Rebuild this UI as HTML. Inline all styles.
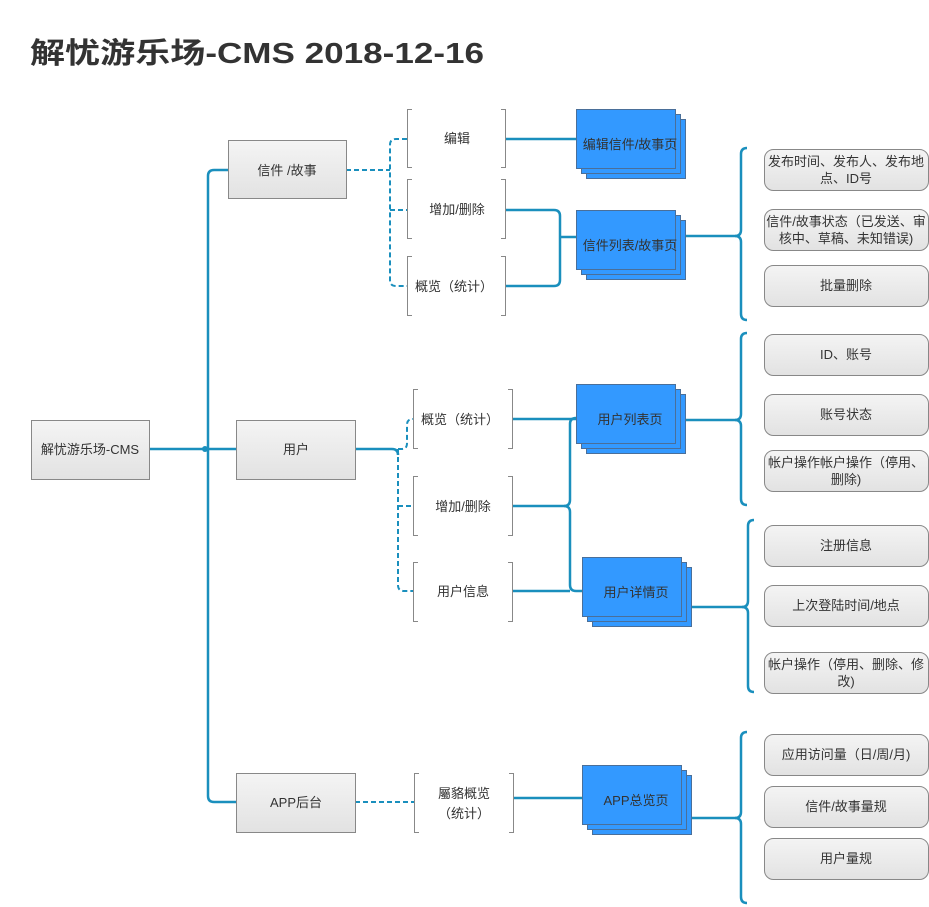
<!DOCTYPE html>
<html><head><meta charset="utf-8"><style>
html,body{margin:0;padding:0;background:#fff;width:929px;height:907px;overflow:hidden}
svg{display:block}
text{font-family:"Liberation Sans","Noto Sans CJK SC",sans-serif;fill:#333;font-size:13px}
</style></head><body>
<svg width="929" height="907" viewBox="0 0 929 907" xmlns="http://www.w3.org/2000/svg">
<defs>
<linearGradient id="g" x1="0" y1="0" x2="0" y2="1"><stop offset="0" stop-color="#f4f4f4"/><stop offset="1" stop-color="#e2e2e2"/></linearGradient>
</defs>
<text x="30" y="63" style="font-size:29px;font-weight:bold;fill:#333" textLength="454" lengthAdjust="spacingAndGlyphs">解忧游乐场-CMS  2018-12-16</text>

<g fill="none" stroke="#1a8fbd" stroke-width="2.5">
<!-- trunk -->
<path d="M228 170 H214 Q208 170 208 176 V796 Q208 802 214 802 H236"/>
<path d="M149 449 H236"/>
<!-- letters -->
<path d="M506 139 H576"/>
<path d="M506 210 H554 Q560 210 560 216 V280 Q560 286 554 286 H506"/>
<path d="M560 237 H576"/>
<path d="M685 236 H735 Q741 236 741 230 V154 Q741 148 747 148"/>
<path d="M735 236 Q741 236 741 242 V314 Q741 320 747 320"/>
<!-- users -->
<path d="M355 449 H392 Q398 449 398 455"/>
<path d="M513 419 H576"/>
<path d="M513 506 H564 Q570 506 570 500 V424 Q570 418 576 418"/>
<path d="M564 506 Q570 506 570 512 V585 Q570 591 576 591 H583"/>
<path d="M513 591 H570"/>
<path d="M685 420 H735 Q741 420 741 414 V339 Q741 333 747 333"/>
<path d="M735 420 Q741 420 741 426 V499 Q741 505 747 505"/>
<path d="M692 607 H742 Q748 607 748 601 V526 Q748 520 754 520"/>
<path d="M742 607 Q748 607 748 613 V686 Q748 692 754 692"/>
<!-- app -->
<path d="M514 798 H583"/>
<path d="M692 818 H735 Q741 818 741 812 V738 Q741 732 747 732"/>
<path d="M735 818 Q741 818 741 824 V897 Q741 903 747 903"/>
</g>
<circle cx="205" cy="449" r="3" fill="#1a8fbd"/>

<g fill="none" stroke="#1a8fbd" stroke-width="2" stroke-dasharray="5,3">
<path d="M346 170 H390"/>
<path d="M407 139 H396 Q390 139 390 145 V280 Q390 286 396 286 H407"/>
<path d="M390 210 H407"/>
<path d="M398 449 V585 Q398 591 404 591 H413"/>
<path d="M398 506 H413"/>
<path d="M398 449 H402 Q407 449 407 443 V425 Q407 419 413 419"/>
<path d="M355 802 H414"/>
</g>

<!-- gray boxes -->
<g fill="url(#g)" stroke="#888" stroke-width="1">
<rect x="31.5" y="420.5" width="118" height="59"/>
<rect x="228.5" y="140.5" width="118" height="58"/>
<rect x="236.5" y="420.5" width="119" height="59"/>
<rect x="236.5" y="773.5" width="119" height="59"/>
</g>
<text x="90" y="454" text-anchor="middle">解忧游乐场-CMS</text>
<text x="287" y="175" text-anchor="middle">信件 /故事</text>
<text x="296" y="454" text-anchor="middle">用户</text>
<text x="296" y="807" text-anchor="middle">APP后台</text>

<!-- open brackets -->
<g fill="none" stroke="#888" stroke-width="1">
<path d="M412 109.5 H407.5 V167.5 H412 M501 109.5 H505.5 V167.5 H501"/>
<path d="M412 179.5 H407.5 V238.5 H412 M501 179.5 H505.5 V238.5 H501"/>
<path d="M412 256.5 H407.5 V315.5 H412 M501 256.5 H505.5 V315.5 H501"/>
<path d="M418 389.5 H413.5 V448.5 H418 M508 389.5 H512.5 V448.5 H508"/>
<path d="M418 476.5 H413.5 V535.5 H418 M508 476.5 H512.5 V535.5 H508"/>
<path d="M418 562.5 H413.5 V621.5 H418 M508 562.5 H512.5 V621.5 H508"/>
<path d="M419 773.5 H414.5 V832.5 H419 M509 773.5 H513.5 V832.5 H509"/>
</g>
<text x="457" y="143" text-anchor="middle">编辑</text>
<text x="457" y="214" text-anchor="middle">增加/删除</text>
<text x="454" y="291" text-anchor="middle">概览（统计）</text>
<text x="460" y="424" text-anchor="middle">概览（统计）</text>
<text x="463" y="511" text-anchor="middle">增加/删除</text>
<text x="463" y="596" text-anchor="middle">用户信息</text>
<text x="464" y="798" text-anchor="middle">屬貉概览</text>
<text x="464" y="818" text-anchor="middle">（统计）</text>

<!-- blue stacks -->
<g fill="#3399ff" stroke="#4a6f99" stroke-width="1">
<rect x="586.5" y="119.5" width="99" height="59"/><rect x="581.5" y="114.5" width="99" height="59"/><rect x="576.5" y="109.5" width="99" height="59"/>
<rect x="586.5" y="220.5" width="99" height="59"/><rect x="581.5" y="215.5" width="99" height="59"/><rect x="576.5" y="210.5" width="99" height="59"/>
<rect x="586.5" y="394.5" width="99" height="59"/><rect x="581.5" y="389.5" width="99" height="59"/><rect x="576.5" y="384.5" width="99" height="59"/>
<rect x="592.5" y="567.5" width="99" height="59"/><rect x="587.5" y="562.5" width="99" height="59"/><rect x="582.5" y="557.5" width="99" height="59"/>
<rect x="592.5" y="775.5" width="99" height="59"/><rect x="587.5" y="770.5" width="99" height="59"/><rect x="582.5" y="765.5" width="99" height="59"/>
</g>
<text x="630" y="149" text-anchor="middle">编辑信件/故事页</text>
<text x="630" y="250" text-anchor="middle">信件列表/故事页</text>
<text x="630" y="424" text-anchor="middle">用户列表页</text>
<text x="636" y="597" text-anchor="middle">用户详情页</text>
<text x="636" y="805" text-anchor="middle">APP总览页</text>

<!-- rounded items -->
<g fill="url(#g)" stroke="#888" stroke-width="1">
<rect x="764.5" y="149.5" width="164" height="41" rx="9"/>
<rect x="764.5" y="209.5" width="164" height="41" rx="9"/>
<rect x="764.5" y="265.5" width="164" height="41" rx="9"/>
<rect x="764.5" y="334.5" width="164" height="41" rx="9"/>
<rect x="764.5" y="394.5" width="164" height="41" rx="9"/>
<rect x="764.5" y="450.5" width="164" height="41" rx="9"/>
<rect x="764.5" y="525.5" width="164" height="41" rx="9"/>
<rect x="764.5" y="585.5" width="164" height="41" rx="9"/>
<rect x="764.5" y="652.5" width="164" height="41" rx="9"/>
<rect x="764.5" y="734.5" width="164" height="41" rx="9"/>
<rect x="764.5" y="786.5" width="164" height="41" rx="9"/>
<rect x="764.5" y="838.5" width="164" height="41" rx="9"/>
</g>
<g text-anchor="middle">
<text x="846" y="166">发布时间、发布人、发布地</text>
<text x="846" y="183">点、ID号</text>
<text x="846" y="226">信件/故事状态（已发送、审</text>
<text x="846" y="243">核中、草稿、未知错误)</text>
<text x="846" y="290">批量删除</text>
<text x="846" y="359">ID、账号</text>
<text x="846" y="419">账号状态</text>
<text x="846" y="467">帐户操作帐户操作（停用、</text>
<text x="846" y="484">删除)</text>
<text x="846" y="550">注册信息</text>
<text x="846" y="610">上次登陆时间/地点</text>
<text x="846" y="669">帐户操作（停用、删除、修</text>
<text x="846" y="686">改)</text>
<text x="846" y="759">应用访问量（日/周/月)</text>
<text x="846" y="811">信件/故事量规</text>
<text x="846" y="863">用户量规</text>
</g>
</svg>
</body></html>
